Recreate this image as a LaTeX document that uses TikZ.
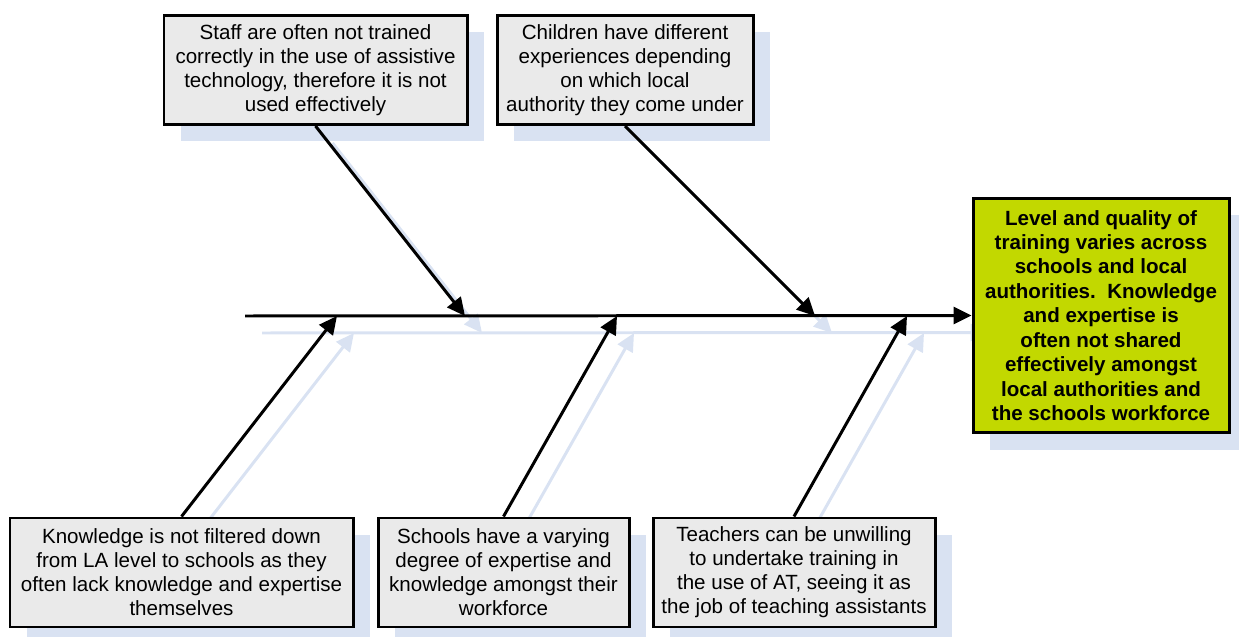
\documentclass[tikz,border=0pt]{standalone}
\usepackage{fontspec}
\setmainfont{Liberation Sans}
\usetikzlibrary{arrows.meta, shadows, backgrounds}
\definecolor{causefill}{HTML}{EAEAEA}
\definecolor{headfill}{HTML}{C2D800}
\definecolor{shadowblue}{HTML}{D9E2F2}

\begin{document}
\begin{tikzpicture}[
    cause/.style={rectangle, draw=black, line width=1.7pt, fill=causefill, align=center, minimum height=2.18cm, inner sep=2pt,
        drop shadow={shadow xshift=0.34cm, shadow yshift=-0.34cm, fill=shadowblue, opacity=1}},
    effect/.style={cause, fill=headfill, font=\bfseries\fontsize{11.7}{13.9}\selectfont},
    bone/.style={line width=1.7pt, -{Triangle[length=0.36cm, width=0.34cm]}},
    ghost/.style={bone, shadowblue, transform canvas={shift={(0.34,-0.34)}}},
    every node/.style={font=\fontsize{11.7}{13.7}\selectfont}
]
\useasboundingbox (0,0) rectangle (24.78,-12.74);

% Head of the fish
\node[effect, minimum width=5.12cm, minimum height=4.68cm] (head) at (22.02,-6.31)
    {Level and quality of\\ training varies across\\ schools and local\\ authorities.\ \ Knowledge\\ and expertise is\\ often not shared\\ effectively amongst\\ local authorities and\\ the schools workforce};

% Top causes
\node[cause, minimum width=6.06cm] (staff) at (6.31,-1.40)
    {Staff are often not trained\\ correctly in the use of assistive\\ technology, therefore it is not\\ used effectively};
\node[cause, minimum width=5.12cm] (children) at (12.50,-1.40)
    {Children have different\\ experiences depending\\ on which local\\ authority they come under};

% Bottom causes
\node[cause, minimum width=6.86cm] (know) at (3.63,-11.45)
    {Knowledge is not filtered down\\ from LA level to schools as they\\ often lack knowledge and expertise\\ themselves};
\node[cause, minimum width=5.02cm] (schools) at (10.07,-11.45)
    {Schools have a varying\\ degree of expertise and\\ knowledge amongst their\\ workforce};
\node[cause, minimum width=5.64cm] (teachers) at (15.88,-11.45)
    {Teachers can be unwilling\\ to undertake training in\\ the use of AT, seeing it as\\ the job of teaching assistants};

% Points on the spine
\coordinate (tail) at (4.90,-6.32);
\coordinate (s1) at (9.30,-6.32);
\coordinate (s2) at (16.30,-6.32);
\coordinate (s3) at (6.74,-6.32);
\coordinate (s4) at (12.34,-6.32);
\coordinate (s5) at (18.14,-6.32);

% Spine and bones
\draw[bone] (tail) -- (head.west);
\draw[bone] (staff.south) -- (s1);
\draw[bone] (children.south) -- (s2);
\draw[bone] (know.north) -- (s3);
\draw[bone] (schools.north) -- (s4);
\draw[bone] (teachers.north) -- (s5);

% Shadows of the bones
\begin{scope}[on background layer]
\draw[ghost] (tail) -- (head.west);
\draw[ghost] (staff.south) -- (s1);
\draw[ghost] (children.south) -- (s2);
\draw[ghost] (know.north) -- (s3);
\draw[ghost] (schools.north) -- (s4);
\draw[ghost] (teachers.north) -- (s5);
\end{scope}

\end{tikzpicture}
\end{document}
